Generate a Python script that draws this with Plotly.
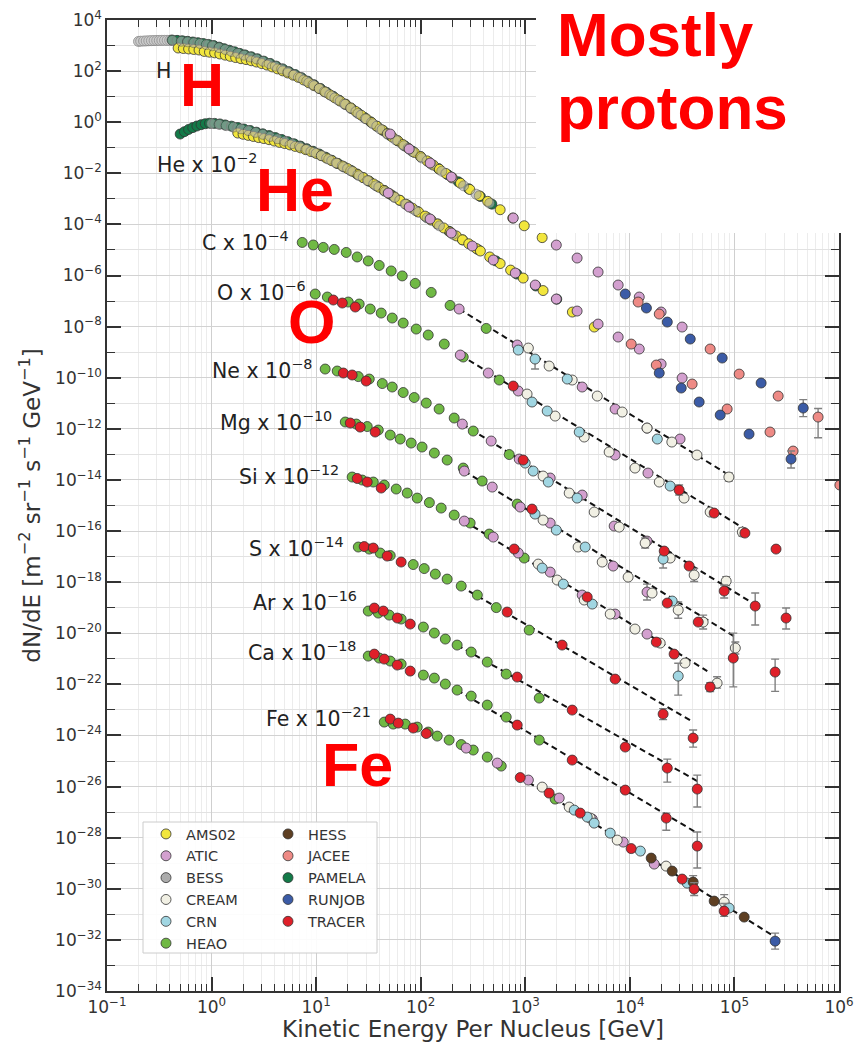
import sys
import plotly.graph_objects as go

# ---------------------------------------------------------------- data
# Energies in GeV per nucleus, fluxes as plotted (already multiplied by the scale factor)

# ---- H
H_BESS_E = [0.200, 0.210, 0.224, 0.237, 0.251, 0.266, 0.282, 0.299, 0.316, 0.335, 0.355, 0.376, 0.398, 0.422,
            0.513, 0.589, 0.676, 0.776, 0.891, 1.02, 1.18, 1.35, 1.55, 1.78, 2.04, 2.34, 2.69, 3.09, 3.55, 4.07,
            4.68, 5.37, 6.17, 7.08, 8.13, 9.33, 10.7, 12.3, 14.1, 16.2, 18.6, 21.4, 25.1, 29.5, 34.7, 40.7, 47.9,
            57.5, 69.2, 83.2, 102, 126, 159, 200, 257, 339, 457]
H_BESS_F = [1450, 1480, 1500, 1520, 1540, 1560, 1570, 1580, 1590, 1600, 1600, 1600, 1600, 1590,
            1479, 1400, 1300, 1205, 1091, 977, 828, 701, 592, 500, 422, 356, 299, 243, 197, 156, 122, 94.6, 72.8,
            55.8, 40.5, 29.4, 21.1, 15.0, 10.6, 7.40, 5.16, 3.49, 2.20, 1.38, 0.871, 0.548, 0.345, 0.204, 0.120,
            0.0706, 0.0401, 0.0228, 0.0121, 0.00647, 0.00324, 0.00152, 6.73e-4]
H_PAMELA_E = [0.417, 0.468, 0.525, 0.589, 0.661, 0.741, 0.832, 0.933, 1.05, 1.18, 1.32, 1.48, 1.66, 1.86, 2.09,
              2.40, 2.75, 3.16, 3.63, 4.17, 4.79, 5.50, 6.31, 7.24, 8.32, 9.55, 11.0, 12.6, 14.5, 16.6, 19.1,
              21.9, 25.1, 28.8, 33.1, 38.0, 43.7, 51.3, 60.3, 70.8, 83.2, 100, 120, 148, 182, 229, 288, 372, 479]
H_PAMELA_F = [1650, 1596, 1538, 1466, 1377, 1294, 1202, 1107, 995, 867, 755, 656, 570, 494, 430, 363, 302, 245,
              200, 156, 122, 94.8, 72.9, 55.4, 40.2, 29.2, 20.9, 14.8, 10.4, 7.29, 5.08, 3.42, 2.30, 1.55, 1.04,
              0.700, 0.471, 0.296, 0.187, 0.117, 0.0740, 0.0448, 0.0270, 0.0153, 0.00871, 0.00465, 0.00248,
              0.00124, 6.22e-4]
H_AMS02_E = [0.479, 0.537, 0.603, 0.676, 0.759, 0.851, 0.955, 1.07, 1.20, 1.35, 1.51, 1.70, 1.91, 2.14, 2.40,
             2.69, 3.02, 3.39, 3.80, 4.27, 4.79, 5.37, 6.03, 6.76, 7.59, 8.51, 9.55, 10.7, 12.0, 13.5, 15.1,
             17.0, 19.1, 21.4, 24.0, 26.9, 30.2, 33.9, 38.0, 42.7, 47.9, 53.7, 60.3, 67.6, 75.9, 87.1, 100, 115,
             132, 151, 174, 200, 240, 295, 363, 437, 575, 759, 977, 1450]
H_AMS02_F = [802, 767, 736, 703, 670, 589, 550, 519, 468, 422, 378, 339, 306, 282, 254, 226, 197, 172, 146, 122,
             102, 84.3, 69.2, 57.0, 44.9, 34.8, 26.9, 20.7, 15.7, 11.9, 8.95, 6.71, 5.02, 3.66, 2.62, 1.89, 1.36,
             0.975, 0.700, 0.504, 0.361, 0.260, 0.187, 0.134, 0.0964, 0.0652, 0.0448, 0.0307, 0.0210, 0.0144,
             0.00989, 0.00678, 0.00410, 0.00233, 0.00132, 8.00e-4, 3.76e-4, 1.77e-4, 8.85e-5, 3.04e-5]
H_ATIC_E = [51.1, 77.6, 123, 196, 767, 1980, 3130, 4970, 7730, 12300, 19900, 31600]
H_ATIC_F = [0.345, 0.0893, 0.0253, 0.00716, 1.78e-4, 1.56e-5, 4.84e-6, 1.37e-6, 4.25e-7, 1.44e-7, 3.73e-8, 9.64e-9]
H_RUNJOB_E = [9040, 14400, 22800, 37800, 76400, 180000, 455000]
H_RUNJOB_F = [1.89e-7, 5.35e-8, 1.51e-8, 3.27e-9, 5.90e-10, 6.21e-11, 6.52e-12]
H_RUNJOB_UP = [0, 0, 0, 0, 0, 0, 7.4e-12]
H_RUNJOB_DN = [0, 0, 0, 0, 0, 0, 3.5e-12]
H_JACEE_E = [12000, 19100, 58600, 111000, 262000, 631000]
H_JACEE_F = [9.17e-8, 3.11e-8, 1.33e-9, 1.39e-10, 1.92e-11, 2.89e-12]
H_JACEE_UP = [0, 0, 0, 0, 0, 3.4e-12]
H_JACEE_DN = [0, 0, 0, 0, 0, 2.44e-12]

# ---- He (x 1e-2)
He_BESS_E = [1.00, 1.18, 1.38, 1.62, 1.91, 2.24, 2.63, 3.09, 3.63, 4.27, 5.01, 5.89, 6.92, 8.13, 9.55, 11.2, 13.2,
             15.5, 18.2, 21.4, 25.7, 30.9, 37.2, 45.7, 56.2, 70.8, 89.1, 115, 151, 204]
He_BESS_F = [0.887, 0.824, 0.735, 0.646, 0.552, 0.472, 0.399, 0.335, 0.278, 0.226, 0.183, 0.145, 0.115, 0.0879,
             0.0671, 0.0495, 0.0356, 0.0254, 0.0179, 0.0126, 0.00807, 0.00519, 0.00326, 0.00193, 0.00113, 6.25e-4,
             3.45e-4, 1.79e-4, 8.79e-5, 4.06e-5]
He_PAMELA_E = [0.501, 0.550, 0.603, 0.661, 0.724, 0.794, 0.871, 0.955, 1.07, 1.20, 1.35, 1.55, 1.78, 2.04, 2.34,
               2.69, 3.09, 3.55, 4.07, 4.68, 5.37, 6.17, 7.08, 8.13, 9.33, 10.7, 12.3, 14.1, 16.2, 18.6, 21.4,
               24.5, 28.2, 32.4, 38.0, 44.7, 52.5, 63.1, 75.9, 93.3, 115, 145, 186, 251, 355, 525, 832, 1260, 2000]
He_PAMELA_F = [0.344, 0.426, 0.521, 0.615, 0.711, 0.800, 0.871, 0.912, 0.900, 0.855, 0.783, 0.701, 0.618, 0.541,
               0.473, 0.407, 0.351, 0.300, 0.251, 0.211, 0.173, 0.142, 0.116, 0.0920, 0.0731, 0.0570, 0.0430,
               0.0324, 0.0240, 0.0178, 0.0132, 0.00944, 0.00678, 0.00484, 0.00322, 0.00214, 0.00142, 8.81e-4,
               5.48e-4, 3.21e-4, 1.88e-4, 1.04e-4, 5.41e-5, 2.49e-5, 1.02e-5, 3.73e-6, 1.14e-6, 3.90e-7, 1.19e-7]
He_AMS02_E = [1.78, 2.00, 2.24, 2.51, 2.82, 3.16, 3.55, 3.98, 4.47, 5.01, 5.62, 6.31, 7.08, 7.94, 8.91, 10.0, 11.2,
              12.6, 14.1, 15.8, 17.8, 20.0, 22.4, 25.1, 28.2, 31.6, 35.5, 39.8, 44.7, 50.1, 56.2, 63.1, 72.4, 83.2,
              95.5, 110, 126, 145, 166, 191, 219, 251, 288, 339, 372, 457, 575, 724, 955, 1480, 2820, 4570]
He_AMS02_F = [0.377, 0.337, 0.305, 0.277, 0.250, 0.229, 0.207, 0.183, 0.162, 0.146, 0.129, 0.113, 0.0989, 0.0843,
              0.0711, 0.0601, 0.0490, 0.0391, 0.0313, 0.0247, 0.0195, 0.0153, 0.0118, 0.00893, 0.00678, 0.00514,
              0.00384, 0.00286, 0.00214, 0.00160, 0.00119, 8.81e-4, 6.17e-4, 4.33e-4, 3.03e-4, 2.12e-4, 1.48e-4,
              1.04e-4, 7.28e-5, 5.09e-5, 3.56e-5, 2.49e-5, 1.75e-5, 1.15e-5, 9.10e-6, 5.33e-6, 2.94e-6, 1.63e-6,
              7.96e-7, 2.58e-7, 3.72e-8, 9.64e-9]
He_ATIC_E = [48.9, 77.6, 123, 196, 311, 494, 802, 1245, 1980, 3130, 4970, 7730, 12300, 19900, 31600]
He_ATIC_F = [1.69e-3, 4.80e-4, 1.63e-4, 4.61e-5, 1.43e-5, 4.05e-6, 1.25e-6, 4.25e-7, 1.20e-7, 4.07e-8, 1.26e-8,
             3.92e-9, 1.33e-9, 3.44e-10, 9.73e-11]
He_JACEE_E = [10300, 17900, 39400, 85200, 219000, 364000, 1.02e6]
He_JACEE_F = [2.08e-9, 3.14e-10, 5.67e-11, 5.96e-12, 7.50e-13, 1.35e-13, 6.31e-15]
He_RUNJOB_E = [19100, 31000, 46000, 73100, 138000, 348000]
He_RUNJOB_F = [1.53e-10, 3.95e-11, 1.12e-11, 3.47e-12, 6.25e-13, 6.57e-14]
He_RUNJOB_UP = [0, 0, 0, 0, 0, 6.97e-14]
He_RUNJOB_DN = [0, 0, 0, 0, 0, 3.65e-14]

# ---- C (x 1e-4)
C_HEAO_E = [7.36, 9.38, 11.7, 14.9, 19.4, 24.7, 31.5, 40.1, 52.2, 66.6, 88.6, 126, 191, 423]
C_HEAO_F = [1.97e-5, 1.57e-5, 1.26e-5, 1.05e-5, 8.01e-6, 5.33e-6, 3.72e-6, 2.48e-6, 1.51e-6, 9.64e-7, 4.91e-7,
            2.18e-7, 6.76e-8, 8.51e-9]
C_ATIC_E = [233, 837, 3500, 7230, 14600, 30200]
C_ATIC_F = [4.89e-8, 1.91e-9, 4.33e-11, 5.96e-12, 1.07e-12, 3.99e-13]
C_CREAM_E = [1070, 1690, 2810, 4880, 8450, 14600, 25200, 43800, 88500]
C_CREAM_F = [1.45e-9, 2.87e-10, 8.13e-11, 1.92e-11, 4.55e-12, 1.07e-12, 3.04e-13, 9.43e-14, 1.30e-14]
C_CREAM_UP = [0, 0, 0, 0, 0, 0, 0, 0, 5.66e-15]
C_CREAM_DN = [0, 0, 0, 0, 0, 0, 0, 0, 3.94e-15]
C_CRN_E = [857, 1240, 2520, 18300]
C_CRN_F = [1.21e-9, 5.39e-10, 8.89e-11, 3.99e-13]
C_CRN_UP = [0, 1.67e-10, 0, 0]
C_CRN_DN = [0, 3.2e-10, 0, 0]
C_FIT_E = [233, 88500]
C_FIT_F = [4.89e-8, 1.56e-14]

# ---- O (x 1e-6)
O_HEAO_E = [9.80, 12.8, 20.3, 25.8, 32.9, 41.9, 53.4, 68.0, 90.6, 118, 168, 255, 564]
O_HEAO_F = [1.89e-7, 1.44e-7, 9.17e-8, 7.66e-8, 4.89e-8, 3.40e-8, 2.17e-8, 1.38e-8, 8.05e-9, 4.69e-9, 2.08e-9,
            6.46e-10, 8.13e-11]
O_TRACER_E = [14.6, 17.8, 23.7, 767, 29600, 64000, 126000, 250000]
O_TRACER_F = [1.10e-7, 8.38e-8, 5.85e-8, 4.73e-11, 4.02e-15, 5.06e-16, 8.34e-17, 1.97e-17]
O_TRACER_UP = [0, 0, 0, 0, 2.29e-15, 0, 0, 0]
O_TRACER_DN = [0, 0, 0, 0, 1.46e-15, 0, 0, 0]
O_ATIC_E = [239, 443, 857, 7230, 14900]
O_ATIC_F = [7.74e-10, 1.53e-10, 3.02e-11, 9.43e-14, 1.86e-14]
O_CREAM_E = [1040, 1930, 3660, 6340, 11200, 19100, 33000, 58600, 119000]
O_CREAM_F = [2.30e-11, 3.17e-12, 4.78e-13, 1.24e-13, 2.92e-14, 8.28e-15, 1.95e-15, 5.53e-16, 9.12e-17]
O_CREAM_UP = [0, 0, 0, 0, 0, 0, 0, 0, 3.97e-17]
O_CREAM_DN = [0, 0, 0, 0, 0, 0, 0, 0, 2.76e-17]
O_CRN_E = [1160, 1620, 3280, 24300]
O_CRN_F = [1.12e-11, 4.98e-12, 7.50e-13, 5.77e-15]
O_FIT_E = [239, 126000]
O_FIT_F = [7.74e-10, 1.20e-16]

# ---- Ne (x 1e-8)
Ne_HEAO_E = [12.2, 15.9, 25.3, 32.2, 42.9, 53.4, 68.0, 86.7, 113, 150, 209, 318, 702]
Ne_HEAO_F = [2.19e-10, 1.83e-10, 1.11e-10, 8.89e-11, 5.93e-11, 4.33e-11, 2.64e-11, 1.68e-11, 1.02e-11, 5.96e-12,
             2.65e-12, 8.20e-13, 9.86e-14]
Ne_TRACER_E = [18.2, 22.1, 30.1, 955, 21300, 36900, 79800, 158000, 312000]
Ne_TRACER_F = [1.53e-10, 1.28e-10, 7.43e-11, 6.01e-14, 1.65e-17, 4.27e-18, 4.49e-19, 1.16e-19, 3.94e-20]
Ne_TRACER_UP = [0, 0, 0, 0, 0, 0, 3.2e-19, 2.59e-19, 5.75e-20]
Ne_TRACER_DN = [0, 0, 0, 0, 0, 0, 2.1e-19, 9.5e-20, 2.47e-20]
Ne_ATIC_E = [250, 472, 875, 1730, 3500, 7080, 14600]
Ne_ATIC_F = [1.54e-12, 3.33e-13, 6.57e-14, 1.19e-14, 2.56e-15, 1.57e-16, 4.06e-17]
Ne_CREAM_E = [1480, 2630, 4560, 7910, 14000, 24300, 41200, 83400]
Ne_CREAM_F = [1.42e-14, 3.07e-15, 5.53e-16, 1.43e-16, 3.39e-17, 8.77e-18, 1.90e-18, 1.10e-18]
Ne_CREAM_UP = [0, 0, 0, 0, 1.93e-17, 0, 1.51e-18, 5.5e-19]
Ne_CREAM_DN = [0, 0, 0, 0, 1.23e-17, 0, 8.4e-19, 3.7e-19]
Ne_CRN_E = [998, 1190, 1660, 3130, 20800]
Ne_CRN_F = [4.58e-14, 2.23e-14, 8.28e-15, 1.95e-15, 8.01e-18]
Ne_CRN_UP = [0, 0, 0, 0, 3.5e-18]
Ne_CRN_DN = [0, 0, 0, 0, 4.45e-18]
Ne_FIT_E = [250, 149000]
Ne_FIT_F = [1.54e-12, 1.52e-19]

# ---- Mg (x 1e-10)
Mg_HEAO_E = [19.0, 24.2, 30.8, 39.3, 51.1, 63.7, 81.1, 103, 135, 179, 255, 387, 837]
Mg_HEAO_F = [1.85e-12, 1.54e-12, 1.23e-12, 8.97e-13, 5.72e-13, 3.99e-13, 2.78e-13, 1.94e-13, 1.13e-13, 6.01e-14,
             2.92e-14, 9.06e-15, 1.14e-15]
Mg_TRACER_E = [21.2, 26.4, 36.7, 1160, 22800, 45100, 97500]
Mg_TRACER_F = [1.69e-12, 1.17e-12, 7.50e-13, 7.25e-16, 1.52e-19, 2.74e-20, 1.07e-21]
Mg_TRACER_UP = [0, 0, 0, 0, 0, 0, 9.1e-21]
Mg_TRACER_DN = [0, 0, 0, 0, 0, 0, 9.9e-22]
Mg_ATIC_E = [261, 483, 895, 1730, 6920, 14600]
Mg_ATIC_F = [2.23e-14, 5.27e-15, 8.69e-16, 2.06e-16, 4.27e-18, 4.10e-19]
Mg_ATIC_UP = [0, 0, 0, 0, 0, 4.3e-19]
Mg_ATIC_DN = [0, 0, 0, 0, 0, 2.1e-19]
Mg_CREAM_E = [1480, 3200, 5440, 9630, 16300, 29000, 50200, 102000]
Mg_CREAM_F = [2.69e-16, 2.37e-17, 6.12e-18, 1.58e-18, 3.74e-19, 8.09e-20, 2.74e-20, 2.64e-21]
Mg_CREAM_UP = [0, 0, 0, 0, 0, 8.6e-20, 2.4e-20, 1.9e-21]
Mg_CREAM_DN = [0, 0, 0, 0, 0, 4.2e-20, 1.28e-20, 1.1e-21]
Mg_CRN_E = [1240, 1980, 3740, 25400]
Mg_CRN_F = [4.62e-16, 1.09e-16, 2.37e-17, 1.82e-19]
Mg_FIT_E = [261, 102000]
Mg_FIT_F = [2.23e-14, 7.10e-21]

# ---- Si (x 1e-12)
Si_HEAO_E = [22.1, 27.6, 35.2, 44.8, 58.3, 74.3, 92.6, 121, 157, 209, 297, 452, 977]
Si_HEAO_F = [1.30e-14, 9.91e-15, 8.28e-15, 6.31e-15, 4.41e-15, 3.07e-15, 1.95e-15, 1.30e-15, 7.94e-16, 4.23e-16,
             2.06e-16, 7.62e-17, 8.77e-18]
Si_TRACER_E = [24.7, 30.8, 41.9, 784, 3910, 17900, 26500, 58600, 245000]
Si_TRACER_F = [1.14e-14, 8.28e-15, 4.82e-15, 1.98e-17, 2.61e-19, 4.52e-21, 1.53e-21, 7.84e-23, 3.03e-22]
Si_TRACER_UP = [0, 0, 0, 0, 0, 0, 0, 3.9e-23, 6.7e-22]
Si_TRACER_DN = [0, 0, 0, 0, 0, 0, 0, 2.6e-23, 2.5e-22]
Si_ATIC_E = [261, 494, 857, 1730, 3500, 7230, 14600]
Si_ATIC_F = [2.46e-16, 5.82e-17, 1.38e-17, 2.48e-18, 3.13e-19, 5.64e-20, 9.30e-21]
Si_CREAM_E = [1330, 2020, 3660, 6490, 11200, 19500, 33700, 68300]
Si_CREAM_F = [5.10e-18, 1.21e-18, 2.00e-19, 5.64e-20, 1.46e-20, 4.13e-21, 6.81e-22, 1.12e-22]
Si_CREAM_UP = [0, 0, 0, 0, 0, 0, 0, 8.7e-23]
Si_CREAM_DN = [0, 0, 0, 0, 0, 0, 0, 4.1e-23]
Si_CRN_E = [1450, 2310, 4370, 29000]
Si_CRN_F = [3.56e-18, 8.41e-19, 1.39e-19, 2.11e-22]
Si_CRN_UP = [0, 0, 0, 4.6e-22]
Si_CRN_DN = [0, 0, 0, 1.73e-22]
Si_FIT_E = [261, 55000]
Si_FIT_F = [2.46e-16, 3.31e-22]

# ---- S (x 1e-14)
S_HEAO_E = [25.3, 32.2, 41.0, 51.1, 84.8, 108, 138, 179, 244, 348, 528, 1090]
S_HEAO_F = [2.37e-17, 1.97e-17, 1.38e-17, 1.10e-17, 4.89e-18, 3.40e-18, 2.07e-18, 1.32e-18, 7.03e-19, 3.13e-19,
            1.01e-19, 1.33e-20]
S_TRACER_E = [28.8, 35.2, 47.8, 65.0, 671, 2250, 7230, 20800, 40300]
S_TRACER_F = [2.47e-17, 2.16e-17, 1.05e-17, 6.12e-18, 6.76e-20, 3.45e-21, 1.61e-22, 6.88e-24, 7.91e-25]
S_TRACER_UP = [0, 0, 0, 0, 0, 0, 0, 4.4e-24, 8.4e-25]
S_TRACER_DN = [0, 0, 0, 0, 0, 0, 0, 2.7e-24, 4.4e-25]
S_FIT_E = [239, 40300]
S_FIT_F = [7.03e-19, 3.35e-24]

# ---- Ar (x 1e-16)
Ar_HEAO_E = [31.5, 39.3, 50.0, 65.0, 106, 135, 172, 223, 304, 433, 657, 1360]
Ar_HEAO_F = [7.40e-20, 6.18e-20, 5.15e-20, 3.60e-20, 1.75e-20, 1.02e-20, 5.93e-21, 3.45e-21, 1.84e-21, 7.46e-22,
             2.53e-22, 2.91e-23]
Ar_TRACER_E = [36.0, 43.9, 59.7, 79.4, 837, 2810, 9040, 22800, 44100]
Ar_TRACER_F = [9.68e-20, 7.40e-20, 3.94e-20, 2.29e-20, 1.93e-22, 9.86e-24, 3.52e-25, 5.30e-26, 7.98e-27]
Ar_TRACER_UP = [0, 0, 0, 0, 0, 0, 0, 6.6e-26, 2.02e-26]
Ar_TRACER_DN = [0, 0, 0, 0, 0, 0, 0, 3.8e-26, 6.4e-27]
Ar_FIT_E = [223, 44100]
Ar_FIT_F = [3.45e-21, 1.64e-26]

# ---- Ca (x 1e-18)
Ca_HEAO_E = [31.5, 40.1, 51.1, 65.0, 106, 135, 172, 223, 304, 433, 657, 1360]
Ca_HEAO_F = [1.28e-21, 1.07e-21, 8.17e-22, 6.22e-22, 2.31e-22, 1.76e-22, 1.03e-22, 5.98e-23, 3.48e-23, 1.55e-23,
             5.25e-24, 6.61e-25]
Ca_TRACER_E = [36.0, 44.8, 59.7, 79.4, 837, 2810, 9040, 22300, 44100]
Ca_TRACER_F = [1.53e-21, 9.77e-22, 5.69e-22, 3.31e-22, 2.55e-24, 1.09e-25, 7.29e-27, 5.85e-28, 4.69e-29]
Ca_TRACER_UP = [0, 0, 0, 0, 0, 0, 0, 3.3e-28, 1.19e-28]
Ca_TRACER_DN = [0, 0, 0, 0, 0, 0, 0, 3.9e-28, 4.04e-29]
Ca_FIT_E = [223, 44100]
Ca_FIT_F = [5.98e-23, 1.51e-28]

# ---- Fe (x 1e-21)
Fe_HEAO_E = [44.8, 54.6, 71.1, 92.6, 118, 144, 187, 244, 318, 433, 589, 1930]
Fe_HEAO_F = [3.34e-24, 2.79e-24, 2.79e-24, 2.13e-24, 1.36e-24, 9.47e-25, 6.61e-25, 4.41e-25, 2.69e-25, 1.43e-25,
             6.35e-26, 3.24e-27]
Fe_TRACER_E = [51.1, 61.0, 84.8, 113, 895, 1690, 3350, 10300, 31600, 41200, 79800]
Fe_TRACER_F = [4.38e-24, 3.05e-24, 1.95e-24, 1.19e-24, 2.25e-26, 5.56e-27, 9.18e-28, 3.74e-29, 2.40e-30, 9.73e-31,
               1.34e-31]
Fe_TRACER_UP = [0, 0, 0, 0, 0, 0, 0, 0, 0, 7.7e-31, 1.3e-31]
Fe_TRACER_DN = [0, 0, 0, 0, 0, 0, 0, 0, 0, 4.3e-31, 5.1e-32]
Fe_ATIC_E = [272, 540, 1070, 2110, 4370, 8650, 17100]
Fe_ATIC_F = [3.21e-25, 8.32e-26, 1.80e-26, 3.55e-27, 5.35e-28, 6.73e-29, 9.27e-30]
Fe_CREAM_E = [1450, 2630, 4180, 7570, 22200, 79800]
Fe_CREAM_F = [9.55e-27, 1.58e-27, 5.85e-28, 8.05e-29, 7.73e-30, 3.01e-31]
Fe_CREAM_UP = [0, 0, 0, 0, 0, 2.9e-31]
Fe_CREAM_DN = [0, 0, 0, 0, 0, 1.1e-31]
Fe_CRN_E = [2940, 3910, 4560, 6490, 12600, 35300, 88900]
Fe_CRN_F = [1.20e-27, 6.40e-28, 3.72e-28, 1.51e-28, 2.99e-29, 1.67e-30, 1.76e-31]
Fe_HESS_E = [16000, 25400, 40300, 64000, 124000]
Fe_HESS_F = [1.59e-29, 4.93e-30, 1.83e-30, 3.30e-31, 7.80e-32]
Fe_HESS_UP = [0, 0, 1.45e-30, 0, 0]
Fe_HESS_DN = [0, 0, 8.1e-31, 0, 0]
Fe_RUNJOB_E = [245000]
Fe_RUNJOB_F = [8.95e-33]
Fe_RUNJOB_UP = [9.5e-33]
Fe_RUNJOB_DN = [4.6e-33]
Fe_FIT_E = [895, 229000]
Fe_FIT_F = [2.35e-26, 1.54e-32]

# ---- labels
X_TICK_LABELS = ["10<sup>−1</sup>", "10<sup>0</sup>", "10<sup>1</sup>", "10<sup>2</sup>", "10<sup>3</sup>",
                 "10<sup>4</sup>", "10<sup>5</sup>", "10<sup>6</sup>"]
Y_TICK_EXPONENTS = [4, 2, 0, -2, -4, -6, -8, -10, -12, -14, -16, -18, -20, -22, -24, -26, -28, -30, -32, -34]
ELEMENT_LABELS = ["H", "He x 10<sup>−2</sup>", "C x 10<sup>−4</sup>", "O x 10<sup>−6</sup>",
                  "Ne x 10<sup>−8</sup>", "Mg x 10<sup>−10</sup>", "Si x 10<sup>−12</sup>",
                  "S x 10<sup>−14</sup>", "Ar x 10<sup>−16</sup>", "Ca x 10<sup>−18</sup>",
                  "Fe x 10<sup>−21</sup>"]
BIG_LABELS = ["H", "He", "O", "Fe"]
EXPERIMENTS = ["AMS02", "ATIC", "BESS", "CREAM", "CRN", "HEAO", "HESS", "JACEE", "PAMELA", "RUNJOB", "TRACER"]

# ---------------------------------------------------------------- styling
EXP_COLOR = {
    "AMS02": "#f2e63d", "ATIC": "#d3a0cf", "BESS": "#acacac", "CREAM": "#f1f0e4",
    "CRN": "#a1d6e2", "HEAO": "#70b944", "HESS": "#5e3f22", "JACEE": "#ee8a85",
    "PAMELA": "#137a48", "RUNJOB": "#3b5ba6", "TRACER": "#df2029",
}
EXP_OPACITY = {"BESS": 0.62}
LEGEND_COL1 = ["AMS02", "ATIC", "BESS", "CREAM", "CRN", "HEAO"]
LEGEND_COL2 = ["HESS", "JACEE", "PAMELA", "RUNJOB", "TRACER"]
DRAW_ORDER = ["PAMELA", "AMS02", "BESS", "HEAO", "ATIC", "CREAM", "CRN", "HESS", "JACEE", "RUNJOB", "TRACER"]

SERIES = [
    ("BESS", H_BESS_E, H_BESS_F, None, None),
    ("PAMELA", H_PAMELA_E, H_PAMELA_F, None, None),
    ("AMS02", H_AMS02_E, H_AMS02_F, None, None),
    ("ATIC", H_ATIC_E, H_ATIC_F, None, None),
    ("RUNJOB", H_RUNJOB_E, H_RUNJOB_F, H_RUNJOB_UP, H_RUNJOB_DN),
    ("JACEE", H_JACEE_E, H_JACEE_F, H_JACEE_UP, H_JACEE_DN),
    ("BESS", He_BESS_E, He_BESS_F, None, None),
    ("PAMELA", He_PAMELA_E, He_PAMELA_F, None, None),
    ("AMS02", He_AMS02_E, He_AMS02_F, None, None),
    ("ATIC", He_ATIC_E, He_ATIC_F, None, None),
    ("JACEE", He_JACEE_E, He_JACEE_F, None, None),
    ("RUNJOB", He_RUNJOB_E, He_RUNJOB_F, He_RUNJOB_UP, He_RUNJOB_DN),
    ("HEAO", C_HEAO_E, C_HEAO_F, None, None),
    ("ATIC", C_ATIC_E, C_ATIC_F, None, None),
    ("CREAM", C_CREAM_E, C_CREAM_F, C_CREAM_UP, C_CREAM_DN),
    ("CRN", C_CRN_E, C_CRN_F, C_CRN_UP, C_CRN_DN),
    ("HEAO", O_HEAO_E, O_HEAO_F, None, None),
    ("TRACER", O_TRACER_E, O_TRACER_F, O_TRACER_UP, O_TRACER_DN),
    ("ATIC", O_ATIC_E, O_ATIC_F, None, None),
    ("CREAM", O_CREAM_E, O_CREAM_F, O_CREAM_UP, O_CREAM_DN),
    ("CRN", O_CRN_E, O_CRN_F, None, None),
    ("HEAO", Ne_HEAO_E, Ne_HEAO_F, None, None),
    ("TRACER", Ne_TRACER_E, Ne_TRACER_F, Ne_TRACER_UP, Ne_TRACER_DN),
    ("ATIC", Ne_ATIC_E, Ne_ATIC_F, None, None),
    ("CREAM", Ne_CREAM_E, Ne_CREAM_F, Ne_CREAM_UP, Ne_CREAM_DN),
    ("CRN", Ne_CRN_E, Ne_CRN_F, Ne_CRN_UP, Ne_CRN_DN),
    ("HEAO", Mg_HEAO_E, Mg_HEAO_F, None, None),
    ("TRACER", Mg_TRACER_E, Mg_TRACER_F, Mg_TRACER_UP, Mg_TRACER_DN),
    ("ATIC", Mg_ATIC_E, Mg_ATIC_F, Mg_ATIC_UP, Mg_ATIC_DN),
    ("CREAM", Mg_CREAM_E, Mg_CREAM_F, Mg_CREAM_UP, Mg_CREAM_DN),
    ("CRN", Mg_CRN_E, Mg_CRN_F, None, None),
    ("HEAO", Si_HEAO_E, Si_HEAO_F, None, None),
    ("TRACER", Si_TRACER_E, Si_TRACER_F, Si_TRACER_UP, Si_TRACER_DN),
    ("ATIC", Si_ATIC_E, Si_ATIC_F, None, None),
    ("CREAM", Si_CREAM_E, Si_CREAM_F, Si_CREAM_UP, Si_CREAM_DN),
    ("CRN", Si_CRN_E, Si_CRN_F, Si_CRN_UP, Si_CRN_DN),
    ("HEAO", S_HEAO_E, S_HEAO_F, None, None),
    ("TRACER", S_TRACER_E, S_TRACER_F, S_TRACER_UP, S_TRACER_DN),
    ("HEAO", Ar_HEAO_E, Ar_HEAO_F, None, None),
    ("TRACER", Ar_TRACER_E, Ar_TRACER_F, Ar_TRACER_UP, Ar_TRACER_DN),
    ("HEAO", Ca_HEAO_E, Ca_HEAO_F, None, None),
    ("TRACER", Ca_TRACER_E, Ca_TRACER_F, Ca_TRACER_UP, Ca_TRACER_DN),
    ("HEAO", Fe_HEAO_E, Fe_HEAO_F, None, None),
    ("TRACER", Fe_TRACER_E, Fe_TRACER_F, Fe_TRACER_UP, Fe_TRACER_DN),
    ("ATIC", Fe_ATIC_E, Fe_ATIC_F, None, None),
    ("CREAM", Fe_CREAM_E, Fe_CREAM_F, Fe_CREAM_UP, Fe_CREAM_DN),
    ("CRN", Fe_CRN_E, Fe_CRN_F, None, None),
    ("HESS", Fe_HESS_E, Fe_HESS_F, Fe_HESS_UP, Fe_HESS_DN),
    ("RUNJOB", Fe_RUNJOB_E, Fe_RUNJOB_F, Fe_RUNJOB_UP, Fe_RUNJOB_DN),
]
FITS = [(C_FIT_E, C_FIT_F), (O_FIT_E, O_FIT_F), (Ne_FIT_E, Ne_FIT_F), (Mg_FIT_E, Mg_FIT_F),
        (Si_FIT_E, Si_FIT_F), (S_FIT_E, S_FIT_F), (Ar_FIT_E, Ar_FIT_F), (Ca_FIT_E, Ca_FIT_F),
        (Fe_FIT_E, Fe_FIT_F)]

# page geometry (pixels) of the plotting area
W, H = 866, 1042
ML, MR, MT, MB = 107, 27, 20, 51
PW, PH = W - ML - MR, H - MT - MB


def px(xp):
    return (xp - ML) / PW


def py(yp):
    return (H - MB - yp) / PH


FONT = "DejaVu Sans"
INK = "#333333"

fig = go.Figure()

for fe, ff in FITS:
    fig.add_trace(go.Scatter(x=fe, y=ff, mode="lines", showlegend=False, hoverinfo="skip",
                             line=dict(color="#111111", width=2, dash="6px,4px")))

for exp in DRAW_ORDER:
    xs, ys, up, dn = [], [], [], []
    has_err = False
    for (e, E, F, UP, DN) in SERIES:
        if e != exp:
            continue
        n = min(len(E), len(F))
        if len(E) != len(F):
            print("length mismatch", exp, len(E), len(F), file=sys.stderr)
        xs += list(E[:n])
        ys += list(F[:n])
        if UP is not None:
            has_err = True
            up += list(UP[:n])
            dn += list(DN[:n])
        else:
            up += [0] * n
            dn += [0] * n
    edge = "#4a4a4a" if exp == "BESS" else "#333333"
    tr = go.Scatter(x=xs, y=ys, mode="markers", name=exp, showlegend=False,
                    opacity=EXP_OPACITY.get(exp, 1.0),
                    marker=dict(size=10, color=EXP_COLOR[exp], line=dict(color=edge, width=0.8)))
    if has_err:
        tr.error_y = dict(type="data", symmetric=False, array=up, arrayminus=dn,
                          color="#808080", thickness=1.4, width=4)
    fig.add_trace(tr)

# legend entries (two columns)
for col, leg in ((LEGEND_COL1, "legend"), (LEGEND_COL2, "legend2")):
    for rank, exp in enumerate(col, start=1):
        fig.add_trace(go.Scatter(x=[None], y=[None], mode="markers", name=exp, legend=leg, legendrank=rank,
                                 showlegend=True,
                                 marker=dict(size=10, color=EXP_COLOR[exp],
                                             line=dict(color="#333333", width=0.8))))

x_major = [10.0 ** p for p in range(-1, 7)]
x_minor = [k * 10.0 ** p for p in range(-1, 6) for k in range(2, 10)]
y_major = [10.0 ** p for p in Y_TICK_EXPONENTS]
y_labels = ["10<sup>%s</sup>" % (str(p).replace("-", "−")) for p in Y_TICK_EXPONENTS]
y_minor = [10.0 ** p for p in range(3, -34, -2)]

axis_common = dict(type="log", showline=True, linecolor=INK, linewidth=1.5, mirror="ticks",
                   ticks="inside", tickwidth=1.5, tickcolor=INK, ticklen=14,
                   tickfont=dict(family=FONT, size=17, color=INK), zeroline=False,
                   showgrid=True, gridwidth=1)

fig.update_layout(
    width=W, height=H,
    margin=dict(l=ML, r=MR, t=MT, b=MB, autoexpand=False),
    paper_bgcolor="white", plot_bgcolor="white",
    font=dict(family=FONT, color=INK),
    xaxis=dict(axis_common, range=[-1, 6], tickmode="array", tickvals=x_major, ticktext=X_TICK_LABELS,
               gridcolor="#cfcfcf",
               minor=dict(tickmode="array", tickvals=x_minor, ticks="inside", ticklen=7, tickwidth=1.2,
                          tickcolor=INK, showgrid=True, gridcolor="#ececec", gridwidth=1),
               title=dict(text="Kinetic Energy Per Nucleus [GeV]", font=dict(family=FONT, size=23, color=INK),
                          standoff=5)),
    yaxis=dict(axis_common, range=[-34, 4], tickmode="array", tickvals=y_major, ticktext=y_labels,
               gridcolor="#d2d2d2",
               minor=dict(tickmode="array", tickvals=y_minor, ticks="inside", ticklen=8, tickwidth=1.2,
                          tickcolor=INK, showgrid=True, gridcolor="#e2e2e2", gridwidth=1),
               title=dict(text="dN/dE [m<sup>−2</sup> sr<sup>−1</sup> s<sup>−1</sup> GeV<sup>−1</sup>]",
                          font=dict(family=FONT, size=23, color=INK), standoff=8)),
    legend=dict(x=px(146), y=py(818), xanchor="left", yanchor="top", bgcolor="rgba(0,0,0,0)",
                borderwidth=0, font=dict(family=FONT, size=14.5, color=INK), tracegroupgap=0,
                itemsizing="trace"),
    legend2=dict(x=px(268), y=py(818), xanchor="left", yanchor="top", bgcolor="rgba(0,0,0,0)",
                 borderwidth=0, font=dict(family=FONT, size=14.5, color=INK), tracegroupgap=0,
                 itemsizing="trace"),
    showlegend=True,
)

shapes = [
    # legend frame
    dict(type="rect", xref="paper", yref="paper", x0=px(143), x1=px(377), y0=py(953), y1=py(822),
         fillcolor="rgba(255,255,255,0.9)", line=dict(color="#cccccc", width=1), layer="above"),
    # blank corner of the page (top right)
    dict(type="rect", xref="paper", yref="paper", x0=px(536), x1=1.2, y0=py(233), y1=1.2,
         fillcolor="white", line=dict(width=0), layer="above"),
]
fig.update_layout(shapes=shapes)

label_pos = [(172, 71), (258, 163), (290, 241), (307, 292), (313, 370), (333, 421), (340, 475),
             (345, 547), (358, 601), (357, 651), (372, 717)]
annotations = []
for text, (xr, yc) in zip(ELEMENT_LABELS, label_pos):
    annotations.append(dict(text=text, x=px(xr), y=py(yc), xref="paper", yref="paper", xanchor="right",
                            yanchor="middle", showarrow=False, borderpad=0,
                            font=dict(family=FONT, size=20.5, color="#222222")))
big_pos = [(202, 85), (295, 190), (311, 322), (357, 765)]
for text, (xc, yc) in zip(BIG_LABELS, big_pos):
    annotations.append(dict(text="<b>%s</b>" % text, x=px(xc), y=py(yc), xref="paper", yref="paper",
                            xanchor="center", yanchor="middle", showarrow=False, borderpad=0,
                            font=dict(family="Liberation Sans", size=61, color="#ff0000")))
for text, yc in (("Mostly", 35), ("protons", 107)):
    annotations.append(dict(text="<b>%s</b>" % text, x=px(556), y=py(yc), xref="paper", yref="paper",
                            xanchor="left", yanchor="middle", showarrow=False, borderpad=0,
                            font=dict(family="Liberation Sans", size=62, color="#ff0000")))
fig.update_layout(annotations=annotations)

fig.write_html("out.html")
